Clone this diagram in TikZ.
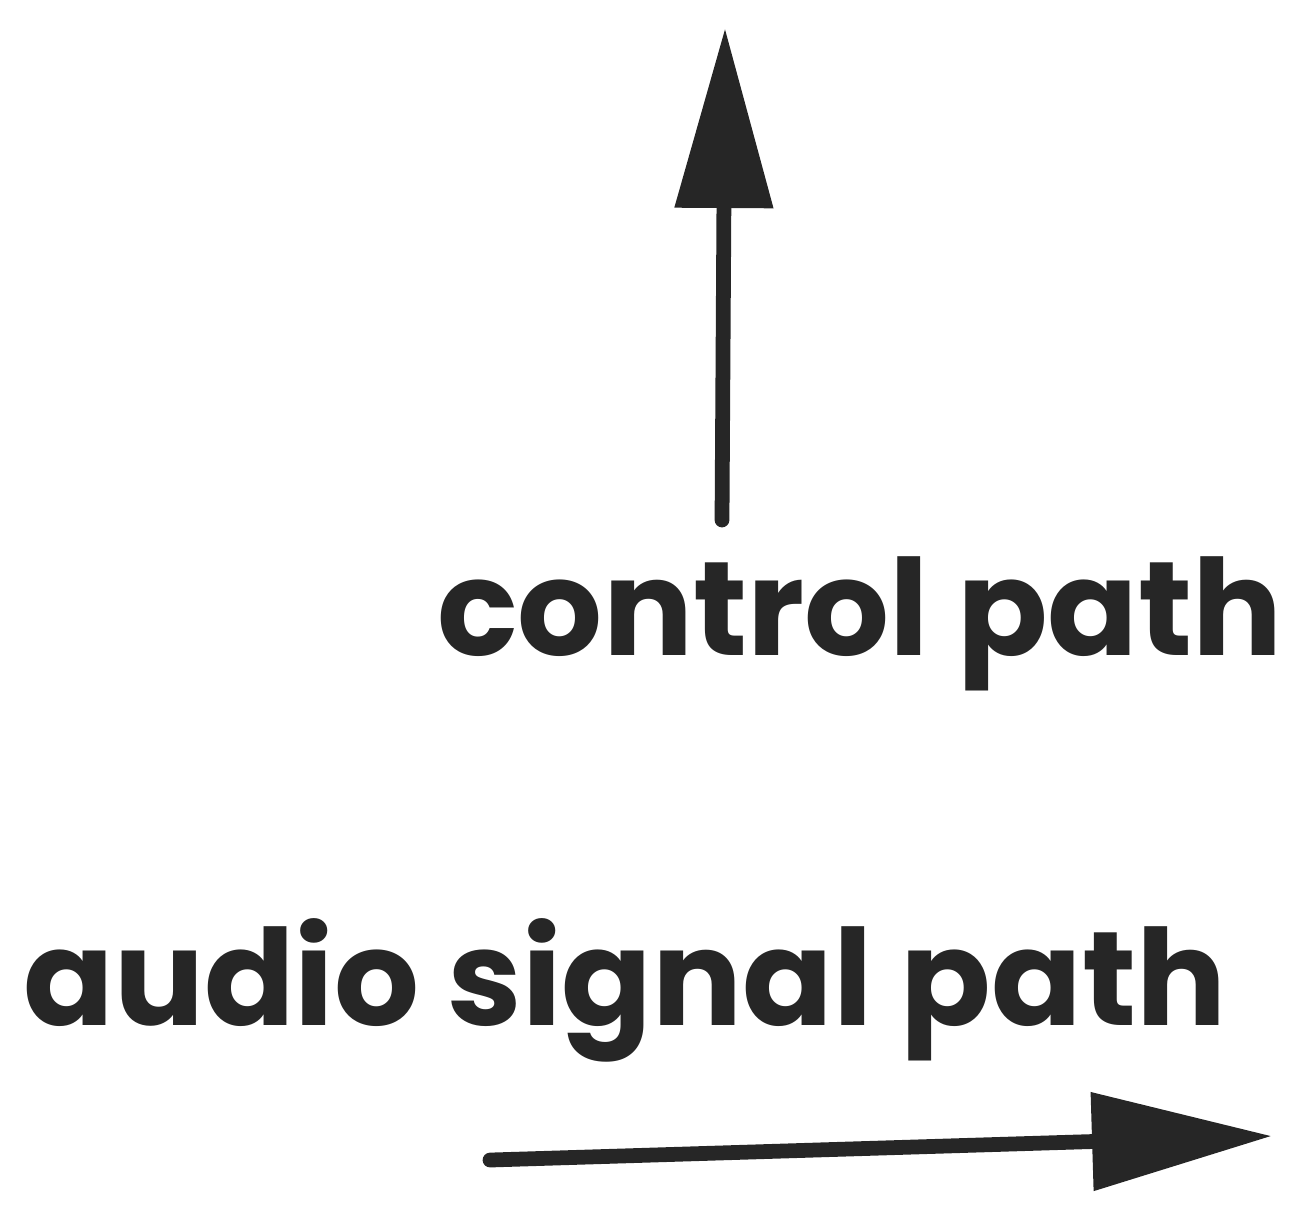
\documentclass[tikz,border=0pt]{standalone}
\usepackage{fontspec}
\setmainfont{Poppins}
\usetikzlibrary{arrows.meta}

\tikzset{
    pathlabel/.style={anchor=base, inner sep=0pt, text=black!85, font=\fontsize{38}{42}\selectfont\bfseries},
    sigarrow/.style={line width=4.2pt, draw=black!85, line cap=round,
        -{Triangle[length=18mm, width=9.5mm]}}
}

\begin{document}
\begin{tikzpicture}

\useasboundingbox (0,0) rectangle (13.11,-12.17);

% control path, pointing up
\coordinate (ctrl start) at (7.22,-5.20);
\coordinate (ctrl end) at (7.25,-0.28);
\draw[sigarrow] (ctrl start) -- (ctrl end);
\node[pathlabel] (ctrl label) at (8.60,-6.55) {control path};

% audio signal path, pointing right
\node[pathlabel] (audio label) at (6.25,-10.25) {audio signal path};
\coordinate (audio start) at (4.90,-11.60);
\coordinate (audio end) at (12.72,-11.36);
\draw[sigarrow] (audio start) -- (audio end);

\end{tikzpicture}
\end{document}
